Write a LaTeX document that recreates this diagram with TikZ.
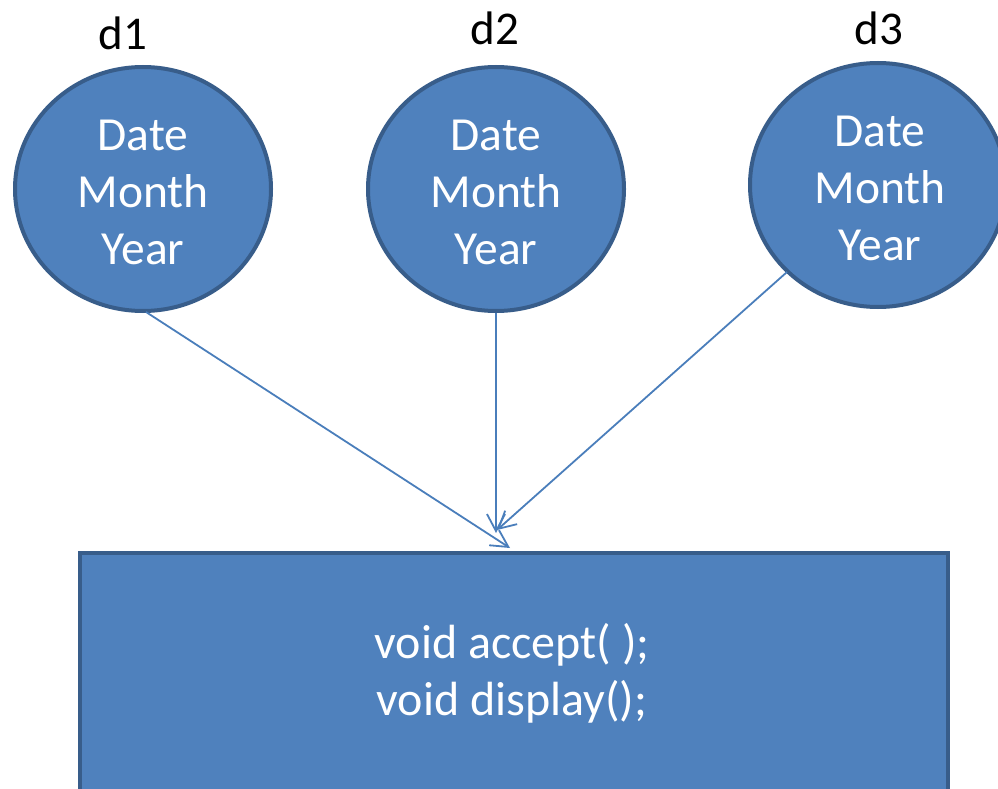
\documentclass[tikz,border=0pt]{standalone}
\usepackage{fontspec}
\setmainfont{Carlito}
\usetikzlibrary{arrows.meta,shapes.geometric}
\definecolor{boxfill}{HTML}{4F81BD}
\definecolor{boxedge}{HTML}{385D8A}
\definecolor{linkblue}{HTML}{4A7EBB}
\tikzset{
  obj/.style={ellipse, draw=boxedge, line width=4pt, fill=boxfill,
    minimum width=256pt, minimum height=244pt, inner sep=0pt},
  objtext/.style={text=white, font=\fontsize{47.5}{57}\selectfont, align=center},
  lbl/.style={font=\fontsize{47}{56}\selectfont, text=black},
  link/.style={draw=linkblue, line width=1.8pt,
    -{Straight Barb[length=17pt, width=18pt, line width=1.8pt]}}
}
\begin{document}
\begin{tikzpicture}[x=1pt, y=-1pt]
  \useasboundingbox (0,0) rectangle (998,789);
  \clip (0,0) rectangle (998,789);
  % three Date objects
  \node[obj] (c1) at (143,189) {};
  \node[obj] (c2) at (496,189) {};
  \node[obj] (c3) at (878,185) {};
  \node[objtext] at (143,192) {Date\\Month\\Year};
  \node[objtext] at (496,192) {Date\\Month\\Year};
  \node[objtext] at (880,188) {Date\\Month\\Year};
  % object names
  \node[lbl] (l1) at (123,33) {d1};
  \node[lbl] (l2) at (495,28) {d2};
  \node[lbl] (l3) at (879,28) {d3};
  % class with its member functions
  \node[draw=boxedge, line width=4pt, fill=boxfill, minimum width=868pt,
    minimum height=300pt, inner sep=0pt, anchor=north west] (cls) at (78,551) {};
  \node[objtext, font=\fontsize{48}{57}\selectfont] (fn) at (512,673)
    {void accept( );\\void display();};
  % links from each object to the class
  \coordinate (t1) at (510,548);
  \coordinate (t2) at (496,533);
  \coordinate (t3) at (497,530);
  \draw[link] (146,312) -- (t1);
  \draw[link] (c2.south) -- (t2);
  \draw[link] (787,272) -- (t3);
\end{tikzpicture}
\end{document}
